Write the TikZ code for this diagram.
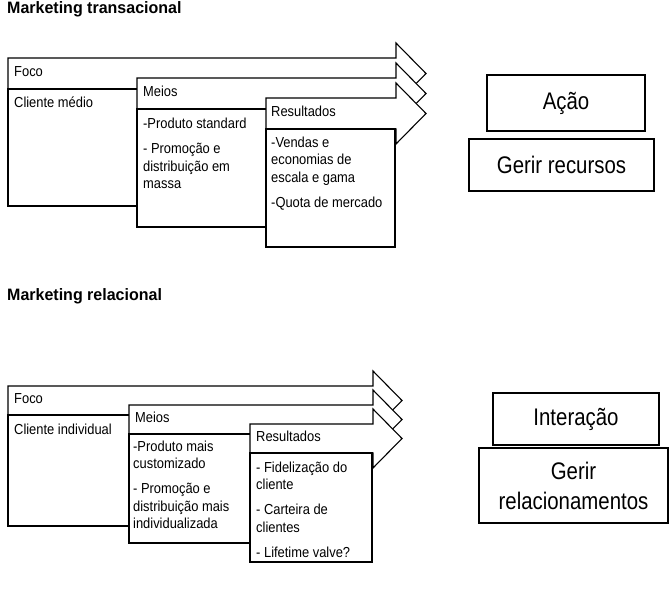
\documentclass[tikz,border=0pt]{standalone}
\usepackage{fontspec}
\newfontfamily\narrowsans{Liberation Sans}[FakeStretch=0.89]
\newfontfamily\largesans{Liberation Sans}[FakeStretch=0.85]
\newfontfamily\titlesans{Liberation Sans}[FakeStretch=0.97]
\newcommand\bodyfont{\narrowsans\fontsize{14.5}{17}\selectfont}
\newcommand\largefont{\largesans\fontsize{24}{30}\selectfont}
\newcommand\headfont{\titlesans\bfseries\fontsize{16.5}{19}\selectfont}
\begin{document}
\begin{tikzpicture}[x=1pt,y=-1pt,
  hdr/.style={draw=black,fill=white,line width=1.1pt,line join=miter},
  bodybox/.style={draw=black,fill=white,line width=1.3pt},
  sep/.style={draw=black,line width=2pt},
  txt/.style={anchor=base west,inner sep=0pt,font=\bodyfont},
  ttl/.style={anchor=base west,inner sep=0pt,font=\headfont},
  bigbox/.style={draw=black,line width=1.2pt,inner sep=0pt,align=center,font=\largefont}]
\useasboundingbox (0,0) rectangle (669,608);

% ---------- Marketing transacional ----------
\node[ttl] (t1) at (7,13) {Marketing transacional};

\path[hdr] (8,58) -- (396,58) -- (396,43) -- (426,73.5) -- (396,104) -- (396,89) -- (8,89) -- cycle;
\path[bodybox] (8,89) rectangle (200,206);
\path[sep] (8,89) -- (200,89);
\node[txt] (f1) at (14,76) {Foco};
\node[txt] (f1a) at (14,107) {Cliente médio};

\path[hdr] (137,78) -- (396,78) -- (396,63) -- (426,93.5) -- (396,124) -- (396,109) -- (137,109) -- cycle;
\path[bodybox] (137,109) rectangle (320,227);
\path[sep] (137,109) -- (320,109);
\node[txt] (m1) at (143,96) {Meios};
\node[txt] (m1a) at (143,128) {-Produto standard};
\node[txt] (m1b) at (143,153) {- Promoção e};
\node[txt] (m1c) at (143,171) {distribuição em};
\node[txt] (m1d) at (143,188) {massa};

\path[hdr] (266,98) -- (396,98) -- (396,83) -- (426,113.5) -- (396,144) -- (396,129) -- (266,129) -- cycle;
\path[bodybox] (266,129) rectangle (395,247);
\path[sep] (266,129) -- (395,129);
\node[txt] (r1) at (271,116) {Resultados};
\node[txt] (r1a) at (271,147) {-Vendas e};
\node[txt] (r1b) at (271,164) {economias de};
\node[txt] (r1c) at (271,182) {escala e gama};
\node[txt] (r1d) at (271,207) {-Quota de mercado};

\node[bigbox,minimum width=158pt,minimum height=56pt] (acao) at (566,103) {Ação};
\node[bigbox,minimum width=185pt,minimum height=52pt] (gerirrec) at (561.5,165) {Gerir recursos};

% ---------- Marketing relacional ----------
\node[ttl] (t2) at (7,300) {Marketing relacional};

\path[hdr] (8,386) -- (373,386) -- (373,371) -- (402,400.5) -- (373,430) -- (373,415) -- (8,415) -- cycle;
\path[bodybox] (8,415) rectangle (180,526);
\path[sep] (8,415) -- (180,415);
\node[txt] (f2) at (14,403) {Foco};
\node[txt] (f2a) at (14,434) {Cliente individual};

\path[hdr] (129,405) -- (373,405) -- (373,390) -- (402,419.5) -- (373,449) -- (373,434) -- (129,434) -- cycle;
\path[bodybox] (129,434) rectangle (300,543);
\path[sep] (129,434) -- (300,434);
\node[txt] (m2) at (135,422) {Meios};
\node[txt] (m2a) at (133,451) {-Produto mais};
\node[txt] (m2b) at (133,468) {customizado};
\node[txt] (m2c) at (133,493) {- Promoção e};
\node[txt] (m2d) at (133,511) {distribuição mais};
\node[txt] (m2e) at (133,528) {individualizada};

\path[hdr] (250,424) -- (373,424) -- (373,409) -- (402,438.5) -- (373,468) -- (373,453) -- (250,453) -- cycle;
\path[bodybox] (250,453) rectangle (372,562);
\path[sep] (250,453) -- (372,453);
\node[txt] (r2) at (256,441) {Resultados};
\node[txt] (r2a) at (256,472) {- Fidelização do};
\node[txt] (r2b) at (256,489) {cliente};
\node[txt] (r2c) at (256,514) {- Carteira de};
\node[txt] (r2d) at (256,532) {clientes};
\node[txt] (r2e) at (256,557) {- Lifetime valve?};

\node[bigbox,minimum width=166pt,minimum height=52pt] (inter) at (576,419) {Interação};
\node[bigbox,minimum width=189pt,minimum height=75pt] (gerirrel) at (573.5,485.5) {Gerir\\relacionamentos};
\end{tikzpicture}
\end{document}
